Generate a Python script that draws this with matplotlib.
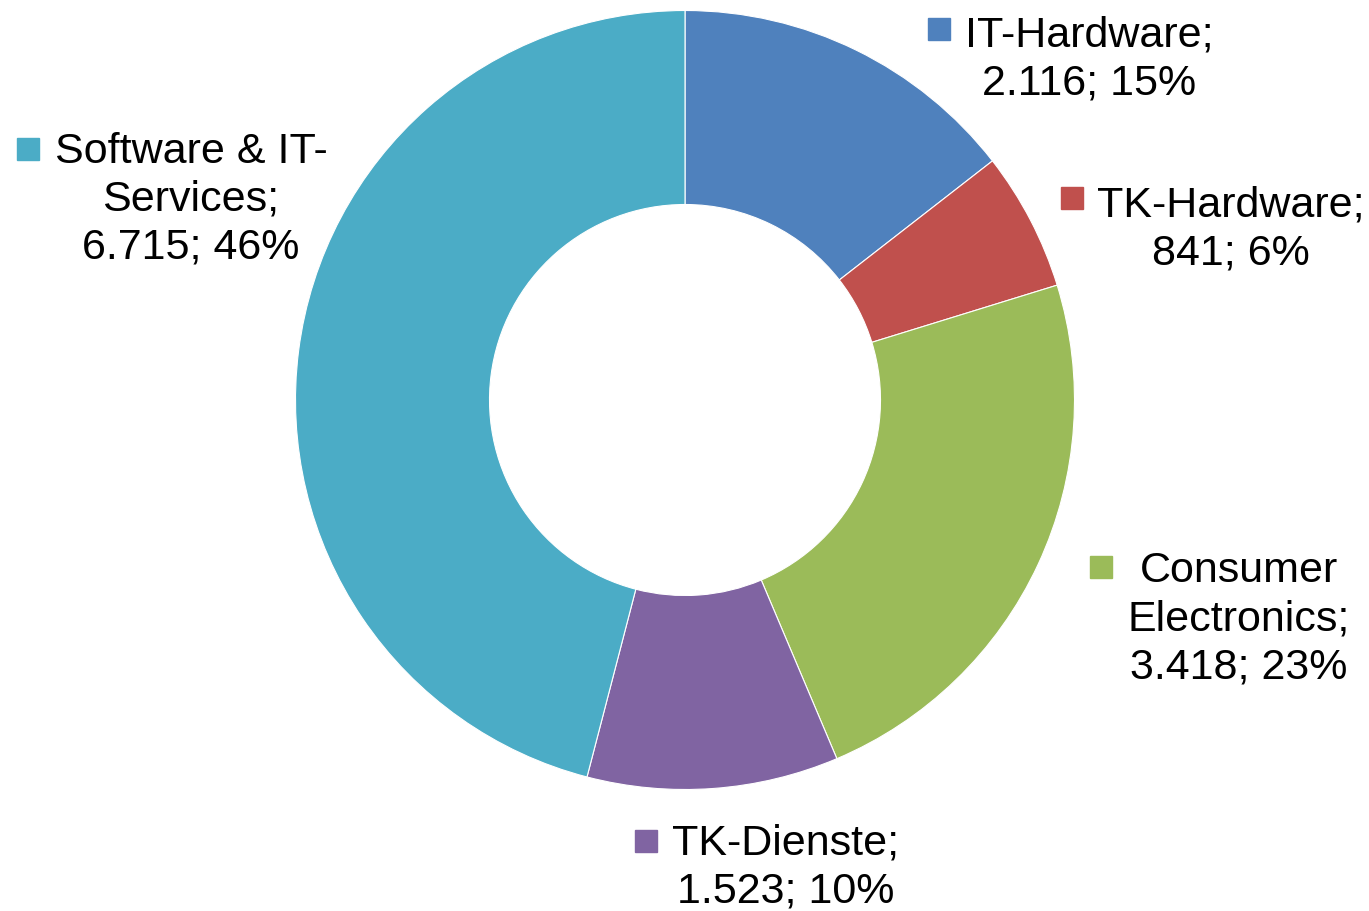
import matplotlib
matplotlib.use("Agg")
import matplotlib.pyplot as plt

plt.rcParams["font.family"] = ["Liberation Sans", "DejaVu Sans"]

# data
categories = ["IT-Hardware", "TK-Hardware", "Consumer\nElectronics", "TK-Dienste",
              "Software & IT-\nServices"]
values = [2116, 841, 3418, 1523, 6715]
percents = [15, 6, 23, 10, 46]
colors = ["#4F81BD", "#C0504D", "#9BBB59", "#8064A2", "#4BACC6"]

# label layout in pixels: text centre x, first baseline y, key centre x, key centre y
label_pos = [(1089, 46, 939, 29), (1231, 216, 1072, 198), (1239, 582, 1101, 567),
             (786, 855, 646, 841), (191, 163, 28, 149)]
LINE_STEP = 48

W, H = 1369, 911


def py(y):
    return H - y


def fmt(v):
    return f"{v:,}".replace(",", ".")


fig = plt.figure(figsize=(W / 100, H / 100), dpi=100)
ax = fig.add_axes([0, 0, 1, 1])

ax.pie(values, colors=colors, startangle=90, counterclock=False,
       center=(685, py(400)), radius=389.5, frame=True,
       wedgeprops=dict(width=194, edgecolor="white", linewidth=0.8))
ax.set_xlim(0, W)
ax.set_ylim(0, H)
ax.set_aspect("equal")
ax.axis("off")

fs = 31
for cat, v, p, c, (tx, ty, kx, ky) in zip(categories, values, percents, colors, label_pos):
    lines = f"{cat};\n{fmt(v)}; {p}%".split("\n")
    for i, line in enumerate(lines):
        ax.text(tx, py(ty + i * LINE_STEP), line, ha="center", va="baseline",
                fontsize=fs, color="black")
    ax.plot([kx], [py(ky)], marker="s", markersize=15.5, color=c, linestyle="none")

fig.savefig("out.png", dpi=100)
